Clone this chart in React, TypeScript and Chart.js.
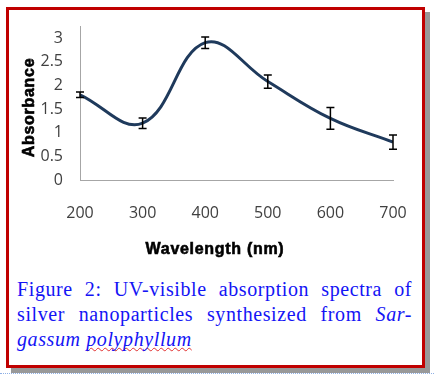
import React, { useEffect, useRef } from "react";
import { Chart, registerables } from "chart.js";

Chart.register(...registerables);

const wavelengths = [200, 300, 400, 500, 600, 700];
const absorbance = [1.8, 1.2, 2.9, 2.08, 1.3, 0.8];
const errors = [0.06, 0.11, 0.12, 0.14, 0.23, 0.15];
const xTicks = [200, 300, 400, 500, 600, 700];
const yTicks = [0, 0.5, 1, 1.5, 2, 2.5, 3];
const xTitle = "Wavelength (nm)";
const yTitle = "Absorbance";

const errorBarPlugin = {
  id: "errorBars",
  afterDatasetsDraw(chart: any) {
    const { ctx, scales } = chart;
    const xs = scales.x;
    const ys = scales.y;
    ctx.save();
    ctx.strokeStyle = "#000000";
    ctx.lineWidth = 1.5;
    wavelengths.forEach((w, i) => {
      const x = xs.getPixelForValue(w);
      const yTop = ys.getPixelForValue(absorbance[i] + errors[i]);
      const yBot = ys.getPixelForValue(absorbance[i] - errors[i]);
      ctx.beginPath();
      ctx.moveTo(x, yTop);
      ctx.lineTo(x, yBot);
      ctx.moveTo(x - 4, yTop);
      ctx.lineTo(x + 4, yTop);
      ctx.moveTo(x - 4, yBot);
      ctx.lineTo(x + 4, yBot);
      ctx.stroke();
    });
    ctx.restore();
  },
};

const axisTitlePlugin = {
  id: "axisTitles",
  afterDraw(chart: any) {
    const { ctx } = chart;
    ctx.save();
    ctx.fillStyle = "#000000";
    ctx.strokeStyle = "#000000";
    ctx.lineWidth = 0.6;
    ctx.font = 'bold 16px "Liberation Sans", Arial, sans-serif';
    try {
      (ctx as any).letterSpacing = "0.7px";
    } catch (e) {}
    ctx.textAlign = "center";
    ctx.textBaseline = "middle";
    ctx.fillText(xTitle, 215, 250);
    ctx.strokeText(xTitle, 215, 250);
    ctx.translate(30, 107.5);
    ctx.rotate(-Math.PI / 2);
    ctx.fillText(yTitle, 0, 0);
    ctx.strokeText(yTitle, 0, 0);
    ctx.restore();
  },
};

export default function App() {
  const canvasRef = useRef<HTMLCanvasElement | null>(null);

  useEffect(() => {
    if (!canvasRef.current) return;
    const chart = new Chart(canvasRef.current, {
      type: "line",
      data: {
        datasets: [
          {
            data: wavelengths.map((x, i) => ({ x, y: absorbance[i] })),
            borderColor: "#1F3A5C",
            borderWidth: 3,
            pointRadius: 0,
            tension: 0.4,
            fill: false,
          },
        ],
      },
      options: {
        responsive: false,
        animation: false,
        devicePixelRatio: 1,
        layout: { padding: { left: 10, top: 23, right: 41, bottom: 0 } },
        plugins: {
          legend: { display: false },
          tooltip: { enabled: false },
        },
        scales: {
          x: {
            type: "linear",
            min: 200,
            max: 700,
            afterBuildTicks: (s: any) => {
              s.ticks = xTicks.map((v) => ({ value: v }));
            },
            afterFit: (s: any) => {
              s.height = 90;
            },
            grid: { display: false, drawTicks: false },
            border: { display: true, color: "#A6A6A6", width: 1 },
            ticks: {
              color: "#404040",
              font: { family: '"Open Sans", sans-serif', size: 16 },
              padding: 24,
              maxRotation: 0,
              autoSkip: false,
              callback: (v: any) => String(v),
            },
          },
          y: {
            type: "linear",
            min: 0,
            max: 3.24,
            afterBuildTicks: (s: any) => {
              s.ticks = yTicks.map((v) => ({ value: v }));
            },
            afterFit: (s: any) => {
              s.width = 70;
            },
            grid: { display: false, drawTicks: false },
            border: { display: true, color: "#A6A6A6", width: 1 },
            ticks: {
              color: "#404040",
              font: { family: '"Open Sans", sans-serif', size: 16 },
              padding: 17,
              autoSkip: false,
              callback: (v: any) => String(v),
            },
          },
        },
      },
      plugins: [errorBarPlugin, axisTitlePlugin],
    } as any);
    return () => chart.destroy();
  }, []);

  const justified: React.CSSProperties = {
    textAlign: "justify",
    textAlignLast: "justify",
    whiteSpace: "nowrap",
  };

  return (
    <div
      style={{
        position: "absolute",
        left: 0,
        top: 0,
        width: 434,
        height: 375,
        background: "#ffffff",
        overflow: "hidden",
      }}
    >
      <div
        style={{
          position: "absolute",
          left: 6,
          top: 7,
          width: 419,
          height: 361,
          boxSizing: "border-box",
          border: "3px solid #C00000",
          boxShadow: "5px 5px 0 #999999",
          background: "#ffffff",
        }}
      />
      <canvas
        ref={canvasRef}
        width={434}
        height={270}
        style={{ position: "absolute", left: 0, top: 0, width: 434, height: 270 }}
      />
      <div
        style={{
          position: "absolute",
          left: 17,
          top: 277,
          width: 395,
          fontFamily: '"Liberation Serif", "Times New Roman", serif',
          fontSize: 20,
          letterSpacing: "0.6px",
          lineHeight: "25px",
          color: "#1414F5",
        }}
      >
        <div style={justified}>Figure 2: UV-visible absorption spectra of</div>
        <div style={justified}>
          silver nanoparticles synthesized from <i>Sar-</i>
        </div>
        <div>
          <i>
            gassum{" "}
            <span
              style={{
                textDecorationLine: "underline",
                textDecorationStyle: "wavy",
                textDecorationColor: "#E03030",
                textDecorationThickness: "1px",
                textDecorationSkipInk: "none",
              } as any}
            >
              polyphyllum
            </span>
          </i>
        </div>
      </div>
      <div
        style={{
          position: "absolute",
          left: 0,
          top: 373,
          width: 434,
          height: 0,
          borderTop: "1px dotted #8FB0E6",
        }}
      />
    </div>
  );
}
